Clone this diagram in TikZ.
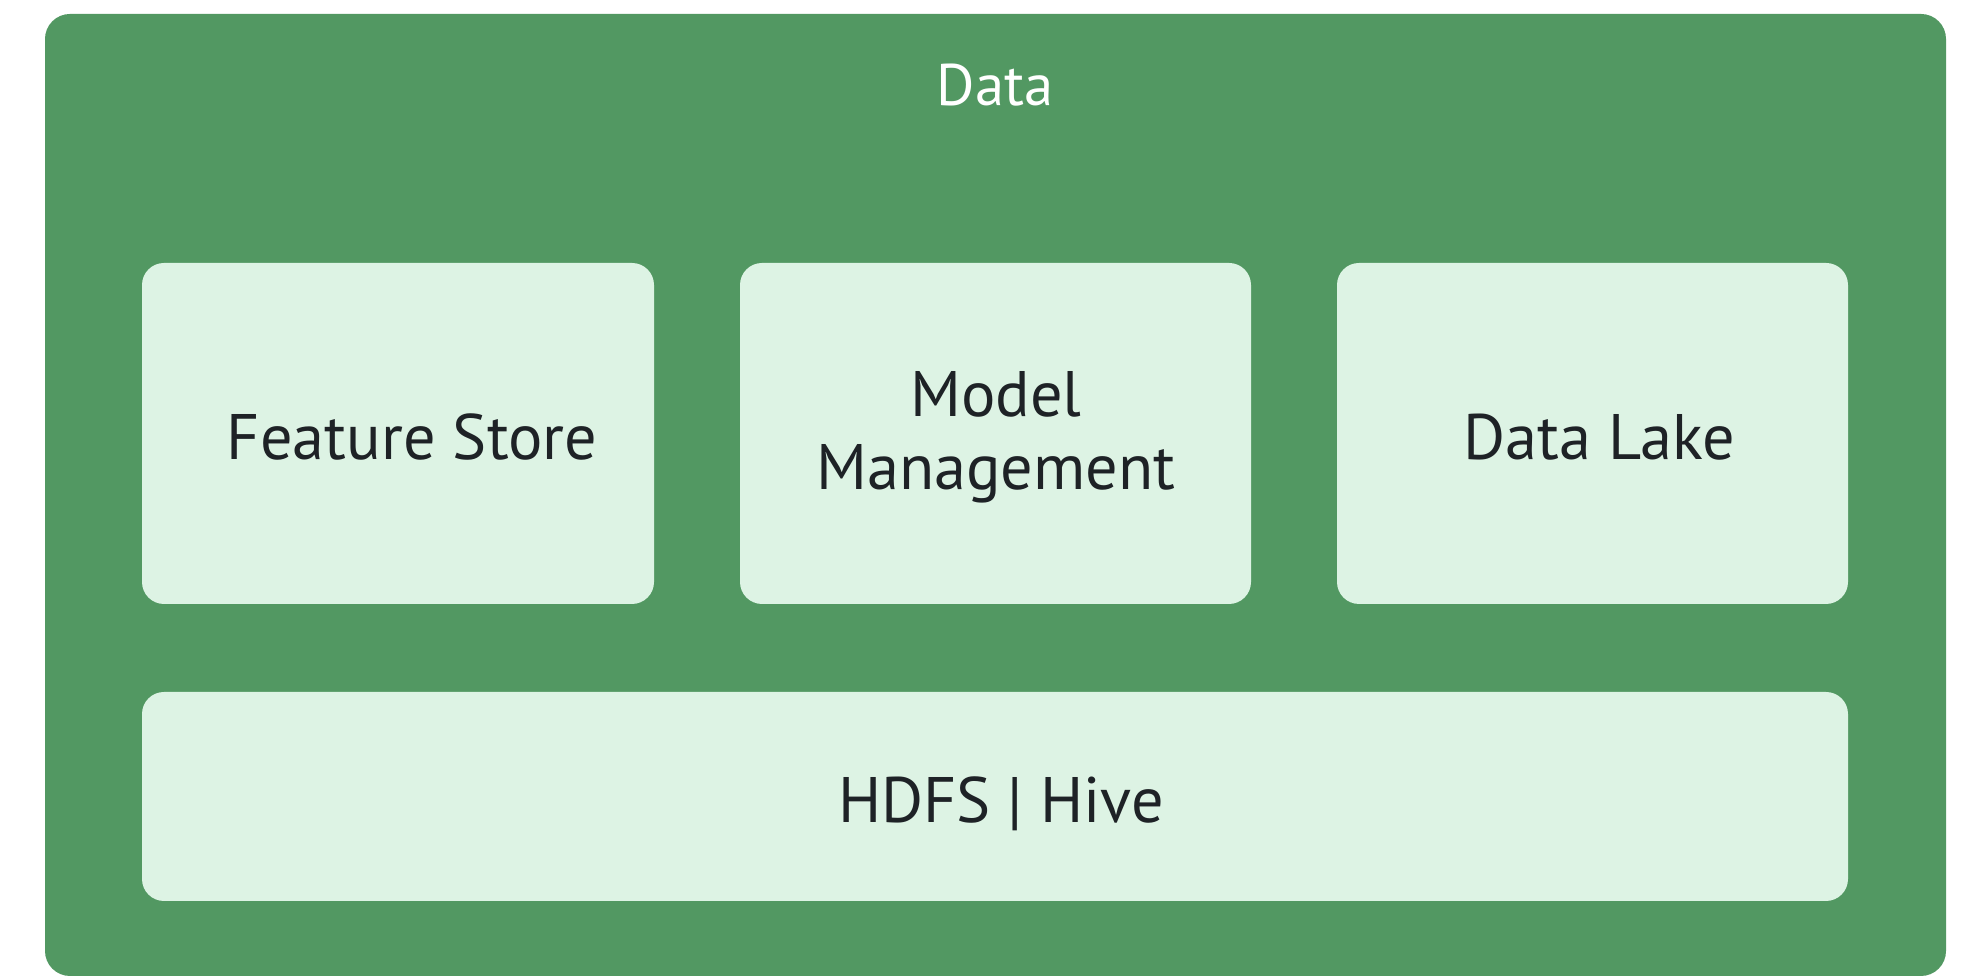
\documentclass[tikz,border=0pt]{standalone}
\usepackage{fontspec}
\setmainfont{PT Sans}
\definecolor{outergreen}{RGB}{82,152,98}
\definecolor{innergreen}{RGB}{221,243,228}
\definecolor{textdark}{RGB}{30,34,38}
\tikzset{
  outerbox/.style={fill=outergreen, draw=none, rounded corners=0.25cm},
  innerbox/.style={fill=innergreen, draw=none, rounded corners=0.22cm, inner sep=0pt},
  boxtext/.style={text=textdark, font=\fontsize{18.3}{22}\selectfont, anchor=base, inner sep=0pt},
  titletext/.style={text=white, font=\fontsize{16.7}{20}\selectfont, anchor=base, inner sep=0pt}
}
\begin{document}
\begin{tikzpicture}
\useasboundingbox (0,0) rectangle (19.77,9.77);
\fill[white] (0,0) rectangle (19.77,9.77);
\node[outerbox, minimum width=19.01cm, minimum height=9.62cm] (data) at (9.955,4.82) {};
\node[innerbox, minimum width=5.12cm, minimum height=3.41cm] (fs) at (3.98,5.435) {};
\node[innerbox, minimum width=5.11cm, minimum height=3.41cm] (mm) at (9.955,5.435) {};
\node[innerbox, minimum width=5.11cm, minimum height=3.41cm] (dl) at (15.925,5.435) {};
\node[innerbox, minimum width=17.06cm, minimum height=2.09cm] (hdfs) at (9.95,1.805) {};
\node[titletext] (datat) at (9.95,8.71) {Data};
\node[boxtext] (fst) at (4.12,5.17) {Feature Store};
\node[boxtext] (mmt1) at (9.96,5.60) {Model};
\node[boxtext] (mmt2) at (9.96,4.87) {Management};
\node[boxtext] (dlt) at (15.99,5.17) {Data Lake};
\node[boxtext] (hdfst) at (10.01,1.54) {HDFS | Hive};
\end{tikzpicture}
\end{document}
